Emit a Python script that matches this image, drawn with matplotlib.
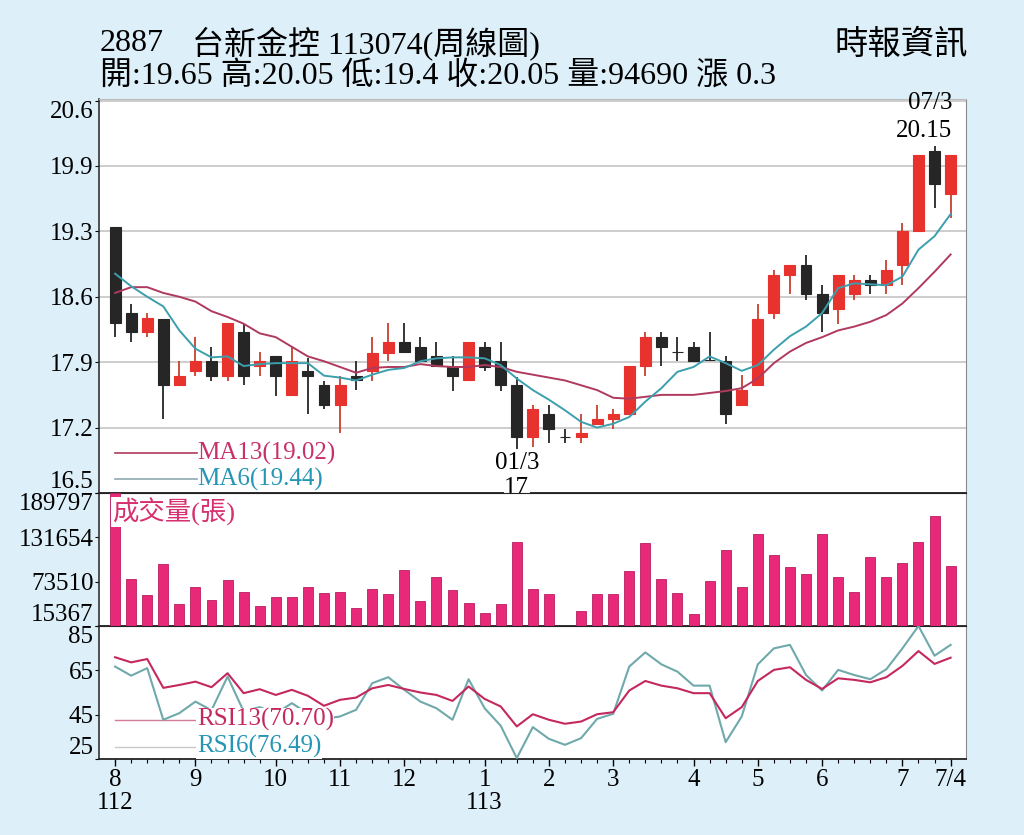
import matplotlib
matplotlib.use('Agg')
import matplotlib.pyplot as plt
import numpy as np

plt.rcParams['font.family'] = ['Liberation Serif', 'Noto Sans CJK TC', 'DejaVu Sans']

# weekly OHLC
opens = [19.31, 18.41, 18.21, 18.35, 17.66, 17.81, 17.91, 17.76, 18.21, 17.86,
         17.96, 17.56, 17.81, 17.66, 17.46, 17.76, 17.81, 18.00, 18.11, 18.06,
         17.96, 17.85, 17.71, 18.06, 17.91, 17.66, 17.12, 17.36, 17.12, 17.12,
         17.26, 17.31, 17.36, 17.86, 18.16, 18.01, 18.06, 17.92, 17.91, 17.46,
         17.66, 18.41, 18.81, 18.91, 18.61, 18.45, 18.61, 18.75, 18.70, 18.91,
         19.26, 20.10, 19.65]
highs = [19.31, 18.51, 18.41, 18.35, 17.91, 18.16, 18.06, 18.31, 18.30, 18.01,
         17.96, 18.06, 17.94, 17.70, 17.76, 17.91, 18.16, 18.31, 18.31, 18.16,
         18.11, 17.96, 18.11, 18.11, 18.11, 17.75, 17.46, 17.46, 17.21, 17.36,
         17.46, 17.41, 17.86, 18.21, 18.21, 18.16, 18.11, 18.21, 17.96, 17.77,
         18.51, 18.86, 18.91, 19.01, 18.70, 18.81, 18.81, 18.81, 18.96, 19.35,
         20.05, 20.15, 20.05]
lows = [18.16, 18.11, 18.16, 17.31, 17.66, 17.76, 17.70, 17.70, 17.66, 17.76,
        17.55, 17.56, 17.36, 17.41, 17.16, 17.61, 17.70, 17.91, 18.01, 17.91,
        17.86, 17.60, 17.71, 17.81, 17.60, 17.00, 17.02, 17.06, 17.06, 17.06,
        17.26, 17.21, 17.36, 17.76, 17.86, 17.91, 17.91, 17.91, 17.26, 17.46,
        17.66, 18.35, 18.61, 18.55, 18.21, 18.30, 18.55, 18.61, 18.61, 18.70,
        19.26, 19.50, 19.40]
closes = [18.31, 18.21, 18.36, 17.66, 17.76, 17.91, 17.76, 18.31, 17.76, 17.91,
          17.76, 17.91, 17.76, 17.46, 17.66, 17.71, 18.00, 18.11, 18.01, 17.91,
          17.86, 17.76, 18.11, 17.85, 17.66, 17.12, 17.41, 17.21, 17.12, 17.16,
          17.31, 17.36, 17.86, 18.16, 18.06, 18.01, 17.91, 17.92, 17.36, 17.61,
          18.35, 18.81, 18.91, 18.61, 18.41, 18.81, 18.75, 18.70, 18.86, 19.26,
          20.05, 19.75, 20.05]

ma13 = [18.62, 18.68, 18.68, 18.62, 18.58, 18.53, 18.43, 18.37, 18.30, 18.20,
        18.16, 18.06, 17.96, 17.91, 17.85, 17.79, 17.84, 17.85, 17.85, 17.88,
        17.86, 17.85, 17.85, 17.87, 17.85, 17.80, 17.77, 17.74, 17.71, 17.66,
        17.61, 17.53, 17.52, 17.54, 17.56, 17.56, 17.56, 17.58, 17.60, 17.63,
        17.73, 17.89, 18.01, 18.10, 18.16, 18.23, 18.27, 18.32, 18.39, 18.51,
        18.67, 18.84, 19.02]
ma6 = [18.82, 18.69, 18.58, 18.48, 18.23, 18.04, 17.95, 17.96, 17.86, 17.88,
       17.89, 17.89, 17.89, 17.76, 17.74, 17.71, 17.77, 17.82, 17.84, 17.91,
       17.94, 17.95, 17.95, 17.94, 17.87, 17.73, 17.61, 17.51, 17.40, 17.28,
       17.22, 17.26, 17.33, 17.49, 17.63, 17.80, 17.85, 17.96, 17.89, 17.81,
       17.87, 18.03, 18.17, 18.27, 18.41, 18.67, 18.72, 18.71, 18.70, 18.79,
       19.07, 19.21, 19.44]

volumes = [189797, 76600, 56000, 97100, 43800, 66100, 49500, 75700, 59600, 41200,
           53400, 53400, 66100, 58300, 60000, 39400, 63500, 57000, 88800, 48200,
           79200, 63000, 45100, 32000, 43800, 125900, 63500, 57000, 5000, 35400,
           57700, 57300, 87500, 123800, 77000, 58600, 30700, 74400, 114600, 66500,
           135600, 108900, 92700, 83600, 136400, 79200, 60400, 106300, 80000, 98000,
           125900, 159600, 94690]

rsi13 = [70.9, 68.6, 70.1, 57.1, 58.4, 59.9, 57.4, 63.7, 54.7, 56.5,
         53.9, 56.2, 53.5, 49.0, 51.7, 52.7, 56.9, 58.4, 56.6, 55.0,
         53.9, 51.2, 57.7, 52.1, 48.7, 39.7, 45.2, 42.7, 40.9, 41.9,
         45.2, 46.1, 55.9, 60.2, 58.1, 56.9, 54.7, 54.7, 43.4, 48.4,
         60.2, 65.2, 66.4, 60.7, 56.6, 61.4, 60.7, 59.6, 61.9, 67.0,
         73.7, 67.9, 70.70]
rsi6 = [66.7, 62.6, 66.0, 42.7, 45.7, 50.9, 47.0, 62.2, 46.5, 48.4,
        45.5, 50.2, 45.5, 43.0, 44.2, 47.2, 59.2, 61.9, 56.2, 50.9,
        47.9, 42.7, 61.0, 47.9, 40.0, 25.4, 39.4, 34.1, 31.4, 34.4,
        43.1, 45.4, 66.7, 73.1, 67.7, 64.4, 58.1, 58.1, 32.6, 44.2,
        67.7, 74.9, 76.5, 62.9, 55.9, 65.2, 62.9, 61.0, 65.5, 74.9,
        85.0, 71.6, 76.49]

price_labels = ['16.5', '17.2', '17.9', '18.6', '19.3', '19.9', '20.6']
vol_ticks = [15367, 73510, 131654, 189797]
rsi_ticks = [25, 45, 65, 85]
month_pos = [0, 5, 10, 14, 18, 23, 27, 31, 36, 40, 44, 49, 52]
month_labels = ['8\n112', '9', '10', '11', '12', '1\n113', '2', '3', '4', '5', '6', '7', '7/4']

BG = '#ddf0fa'
RED = '#e8322e'
BLACK = '#262626'
PINK = '#e8297a'

opens = np.array(opens)
closes = np.array(closes)
weeks = np.arange(len(closes))

fig = plt.figure(figsize=(10.24, 8.35), dpi=100, facecolor=BG)
L, W = 0.0967, 0.8467
ax_p = fig.add_axes([L, 0.4096, W, 0.4719])
ax_v = fig.add_axes([L, 0.2503, W, 0.1593], sharex=ax_p)
ax_r = fig.add_axes([L, 0.0910, W, 0.1593], sharex=ax_p)

# candles
up = closes > opens
cols = np.where(up, RED, BLACK)
wick_cols = np.where(up, '#c9402f', BLACK)
ax_p.vlines(weeks, lows, highs, colors=wick_cols, lw=1.3, zorder=3)
ax_p.bar(weeks, np.abs(closes - opens), 0.68, bottom=np.minimum(opens, closes),
         color=cols, edgecolor=cols, lw=0.8, zorder=4)
ax_p.plot(weeks, ma13, color='#b03a5e', lw=1.4, zorder=5)
ax_p.plot(weeks, ma6, color='#3b9fae', lw=1.4, zorder=5)

price_ticks = [16.54 + 0.68 * k for k in range(len(price_labels))]
ax_p.set_ylim(16.54, 20.637)
ax_p.set_xlim(-1.0, 52.96)
ax_p.set_yticks(price_ticks, price_labels)
ax_p.grid(axis='y', color='#c9c9c9', lw=1.3, zorder=0)

ax_p.plot([0.0185, 0.113], [0.1015, 0.1015], transform=ax_p.transAxes, color='#b03a5e', lw=1.2)
ax_p.text(0.113, 0.1015, 'MA13(19.02)', transform=ax_p.transAxes, color='#c8306a',
          fontsize=18, va='center', ha='left')
ax_p.plot([0.0185, 0.113], [0.0355, 0.0355], transform=ax_p.transAxes, color='#8fa9b0', lw=1.2)
ax_p.text(0.113, 0.0355, 'MA6(19.44)', transform=ax_p.transAxes, color='#2596b5',
          fontsize=18, va='center', ha='left')

ax_p.text(52.1, 20.595, '07/3', ha='right', va='center', fontsize=18, zorder=6)
ax_p.text(52.1, 20.305, '20.15', ha='right', va='center', fontsize=18, zorder=6)
ax_p.text(25, 16.85, '01/3', ha='center', va='center', fontsize=18, zorder=6)
ax_p.text(25, 16.595, '17', ha='center', va='center', fontsize=18, zorder=6,
          bbox=dict(facecolor='white', edgecolor='none', pad=0.5))

# volume
ax_v.bar(weeks, volumes, 0.62, color=PINK, edgecolor='#b81e5e', lw=0.6, zorder=3)
ax_v.set_ylim(15367, 189797)
ax_v.set_yticks(vol_ticks, [str(v) for v in vol_ticks])
ax_v.text(0.015, 0.857, '成交量(張)', transform=ax_v.transAxes, color='#d6306e',
          fontsize=19, va='center', ha='left', zorder=6,
          bbox=dict(facecolor='white', edgecolor='none', pad=0.5))

# RSI
ax_r.plot(weeks, rsi13, color='#c4285e', lw=1.5, zorder=4)
ax_r.plot(weeks, rsi6, color='#6fa9ab', lw=1.5, zorder=3)
ax_r.set_ylim(25, 85)
ax_r.set_yticks(rsi_ticks, [str(v) for v in rsi_ticks])
ax_r.plot([0.0185, 0.113], [0.295, 0.295], transform=ax_r.transAxes, color='#d47a9a', lw=1.0)
ax_r.text(0.113, 0.295, 'RSI13(70.70)', transform=ax_r.transAxes, color='#c4285e',
          fontsize=18, va='center', ha='left', zorder=6,
          bbox=dict(facecolor='white', edgecolor='none', pad=0.3))
ax_r.plot([0.0185, 0.113], [0.092, 0.092], transform=ax_r.transAxes, color='#c8c8c8', lw=1.0)
ax_r.text(0.113, 0.092, 'RSI6(76.49)', transform=ax_r.transAxes, color='#2596b5',
          fontsize=18, va='center', ha='left', zorder=6,
          bbox=dict(facecolor='white', edgecolor='none', pad=0.3))

ax_r.set_xticks(month_pos, month_labels)
ax_r.set_xticks(weeks, minor=True)
ax_r.tick_params(axis='x', which='major', length=5, width=1, labelsize=18, pad=2, direction='out')
ax_r.tick_params(axis='x', which='minor', length=3, width=0.8, direction='out')
for t in ax_r.get_xticklabels():
    t.set_linespacing(1.05)
    t.set_verticalalignment('top')

for ax in (ax_p, ax_v, ax_r):
    ax.set_facecolor('white')
    ax.tick_params(axis='y', length=3, width=0.8, labelsize=18, pad=1, direction='out')
    ax.spines['left'].set_color('#333333')
    ax.spines['bottom'].set_color('#222222')
    ax.spines['top'].set_color('#222222')
    ax.spines['right'].set_color('#8a8a8a')
    ax.spines['left'].set_linewidth(1.2)
    ax.spines['bottom'].set_linewidth(1.3)
    labels = ax.get_yticklabels()
    labels[0].set_verticalalignment('bottom')
    labels[-1].set_verticalalignment('top')
for ax in (ax_p, ax_v):
    ax.tick_params(axis='x', which='both', bottom=False, labelbottom=False)
ax_p.spines['top'].set_color('#bbbbbb')

# header
fig.text(0.0977, 0.9485, '2887', fontsize=23, va='center', ha='left')
fig.text(0.1875, 0.9485, '台新金控 113074(周線圖)', fontsize=23, va='center', ha='left')
fig.text(0.0977, 0.9078, '開:19.65 高:20.05 低:19.4 收:20.05 量:94690 漲 0.3',
         fontsize=23, va='center', ha='left')
fig.text(0.945, 0.946, '時報資訊', fontsize=24, va='center', ha='right')

fig.savefig('out.png', dpi=100, facecolor=BG)
